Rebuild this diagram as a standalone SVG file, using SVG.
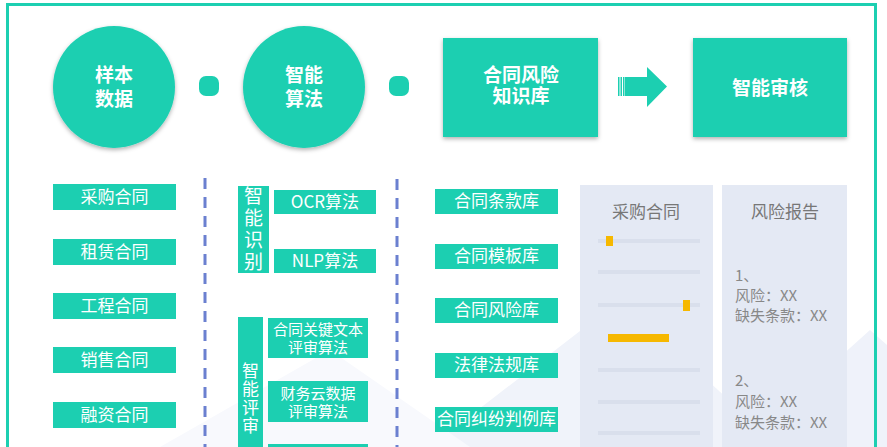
<svg xmlns="http://www.w3.org/2000/svg" width="887" height="447" viewBox="0 0 887 447">
<defs>
<filter id="sh" x="-20%" y="-20%" width="140%" height="150%"><feDropShadow dx="0" dy="2" stdDeviation="2" flood-color="#000" flood-opacity="0.3"/></filter>
<style>
.t{fill:#1ccfb1}
.hd{font-family:"Noto Sans CJK SC","Noto Sans",sans-serif;font-weight:700;font-size:19px;fill:#fff;text-anchor:middle}
.lb{font-family:"Noto Sans CJK SC","Noto Sans",sans-serif;font-size:17px;fill:#fff;text-anchor:middle}
.sb{font-family:"Noto Sans CJK SC","Noto Sans",sans-serif;font-size:15px;fill:#fff;text-anchor:middle}
.vt{font-family:"Noto Sans CJK SC","Noto Sans",sans-serif;font-size:19px;fill:#fff;writing-mode:vertical-rl;letter-spacing:3px}
.vs{font-family:"Noto Sans CJK SC","Noto Sans",sans-serif;font-size:17px;fill:#fff;writing-mode:vertical-rl;letter-spacing:1.5px}
.pt{font-family:"Noto Sans CJK SC","Noto Sans",sans-serif;font-size:17px;fill:#777;text-anchor:middle}
.rt{font-family:"Noto Sans CJK SC","Noto Sans",sans-serif;font-size:15px;fill:#888}
.dash{stroke:#6b80d0;stroke-width:3;stroke-dasharray:11 8;fill:none}
.panel{fill:#e4e9f4}
.gl{fill:#d9dfec}
.y{fill:#f6b800}
</style>
</defs>
<rect width="887" height="447" fill="#fff"/>
<g id="background">
<polygon points="430,447 620,300 780,447" fill="#f0f3fa"/>
<polygon points="740,447 870,330 887,345 887,447" fill="#eff2fa"/>
<polygon points="160,447 330,350 470,447" fill="#f8f9fd"/>
</g>
<rect x="7.5" y="4.5" width="868" height="460" fill="none" stroke="#1ccfb1" stroke-width="3"/>

<g id="top-sample">
<circle class="t" cx="114" cy="87" r="61" filter="url(#sh)"/>
<text class="hd" x="114" y="82">样本<tspan x="114" dy="24">数据</tspan></text>
</g>
<g id="top-algo">
<circle class="t" cx="304" cy="87" r="61" filter="url(#sh)"/>
<text class="hd" x="304" y="82">智能<tspan x="304" dy="24">算法</tspan></text>
</g>
<g id="top-kb">
<rect class="t" x="443" y="38" width="155" height="99" filter="url(#sh)"/>
<text class="hd" x="521" y="82">合同风险<tspan x="521" dy="21">知识库</tspan></text>
</g>
<g id="top-review">
<rect class="t" x="693" y="38" width="154" height="99" filter="url(#sh)"/>
<text class="hd" x="770" y="95">智能审核</text>
</g>

<g id="connectors">
<rect class="t" x="199" y="76" width="20" height="20" rx="7"/>
<rect class="t" x="389" y="76" width="20" height="20" rx="7"/>
<g id="arrow" class="t">
<rect x="618" y="77" width="1.5" height="19"/>
<rect x="620.5" y="77" width="1.5" height="19"/>
<rect x="623" y="77" width="1.5" height="19"/>
<polygon points="625,77 647,77 647,67 667,86.5 647,107 647,96 625,96"/>
</g>
<line class="dash" x1="205" y1="178" x2="205" y2="447"/>
<line class="dash" x1="397" y1="179" x2="397" y2="447"/>
</g>

<g id="contract-types">
<g id="c1"><rect class="t" x="53" y="184" width="123" height="26"/><text class="lb" x="114.5" y="203">采购合同</text></g>
<g id="c2"><rect class="t" x="53" y="239" width="123" height="26"/><text class="lb" x="114.5" y="258">租赁合同</text></g>
<g id="c3"><rect class="t" x="53" y="293" width="123" height="26"/><text class="lb" x="114.5" y="312">工程合同</text></g>
<g id="c4"><rect class="t" x="53" y="347" width="123" height="26"/><text class="lb" x="114.5" y="366">销售合同</text></g>
<g id="c5"><rect class="t" x="53" y="402" width="123" height="26"/><text class="lb" x="114.5" y="421">融资合同</text></g>
</g>

<g id="recognition">
<rect class="t" x="238" y="186" width="31" height="87"/>
<text class="vt" x="253.5" y="186">智能识别</text>
<g id="ocr"><rect class="t" x="274" y="190" width="102" height="24"/><text class="lb" x="325" y="208">OCR算法</text></g>
<g id="nlp"><rect class="t" x="274" y="249" width="102" height="24"/><text class="lb" x="325" y="267">NLP算法</text></g>
</g>

<g id="review">
<rect class="t" x="238" y="317" width="25" height="140"/>
<text class="vs" x="250.5" y="362">智能评审</text>
<g id="r1"><rect class="t" x="268" y="318" width="100" height="40"/><text class="sb" x="318" y="335">合同关键文本<tspan x="318" dy="18">评审算法</tspan></text></g>
<g id="r2"><rect class="t" x="268" y="381" width="100" height="41"/><text class="sb" x="318" y="399">财务云数据<tspan x="318" dy="18">评审算法</tspan></text></g>
<g id="r3"><rect class="t" x="268" y="444" width="100" height="20"/></g>
</g>

<g id="libraries">
<g id="l1"><rect class="t" x="435" y="189" width="123" height="25"/><text class="lb" x="496.5" y="207">合同条款库</text></g>
<g id="l2"><rect class="t" x="435" y="244" width="123" height="25"/><text class="lb" x="496.5" y="262">合同模板库</text></g>
<g id="l3"><rect class="t" x="435" y="298" width="123" height="25"/><text class="lb" x="496.5" y="316">合同风险库</text></g>
<g id="l4"><rect class="t" x="435" y="353" width="123" height="25"/><text class="lb" x="496.5" y="371">法律法规库</text></g>
<g id="l5"><rect class="t" x="435" y="407" width="123" height="25"/><text class="lb" x="496.5" y="425">合同纠纷判例库</text></g>
</g>

<g id="contract-doc">
<rect class="panel" x="580" y="185" width="133" height="270"/>
<text class="pt" x="646" y="218">采购合同</text>
<rect class="gl" x="598" y="239" width="102" height="4"/>
<rect class="gl" x="598" y="270" width="102" height="4"/>
<rect class="gl" x="598" y="303" width="102" height="4"/>
<rect class="gl" x="598" y="368" width="102" height="4"/>
<rect class="gl" x="598" y="400" width="102" height="4"/>
<rect class="gl" x="598" y="431" width="102" height="4"/>
<rect class="y" x="606" y="236" width="7" height="10"/>
<rect class="y" x="683" y="300" width="7" height="11"/>
<rect class="y" x="608" y="334" width="61" height="8"/>
</g>

<g id="risk-report">
<rect class="panel" x="722" y="185" width="125" height="270"/>
<text class="pt" x="785" y="218">风险报告</text>
<text class="rt" x="735" y="281">1、<tspan x="735" dy="20">风险：XX</tspan><tspan x="735" dy="20">缺失条款：XX</tspan></text>
<text class="rt" x="735" y="386">2、<tspan x="735" dy="21">风险：XX</tspan><tspan x="735" dy="21">缺失条款：XX</tspan></text>
</g>
</svg>
